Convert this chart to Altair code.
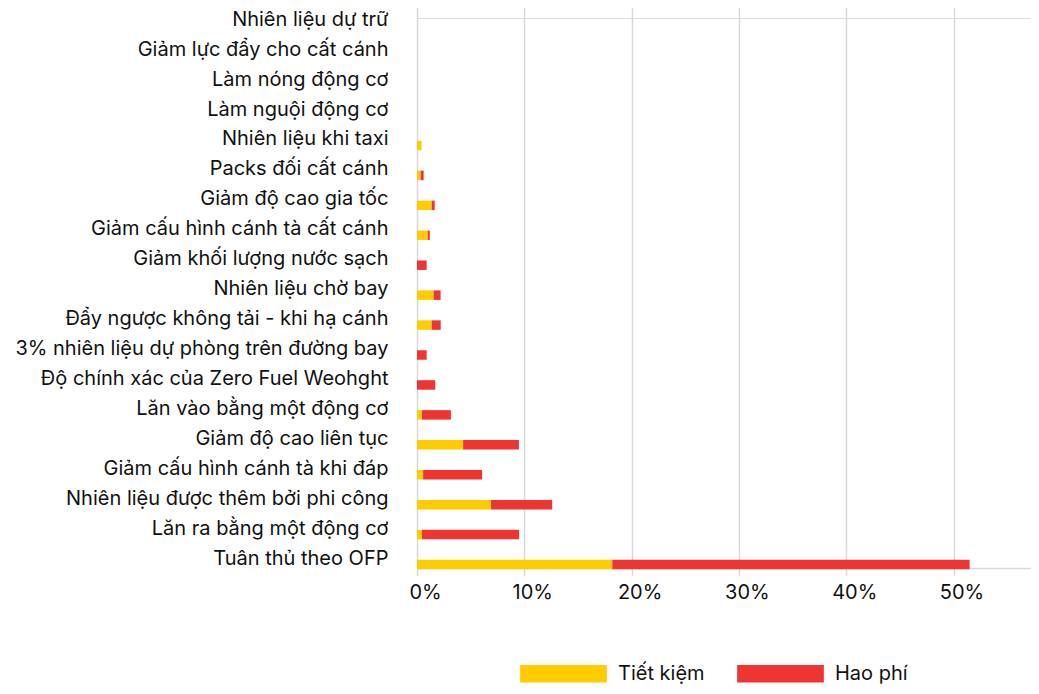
import altair as alt
import pandas as pd

categories = [
    "Nhiên liệu dự trữ",
    "Giảm lực đẩy cho cất cánh",
    "Làm nóng động cơ",
    "Làm nguội động cơ",
    "Nhiên liệu khi taxi",
    "Packs đối cất cánh",
    "Giảm độ cao gia tốc",
    "Giảm cấu hình cánh tà cất cánh",
    "Giảm khối lượng nước sạch",
    "Nhiên liệu chờ bay",
    "Đẩy ngược không tải - khi hạ cánh",
    "3% nhiên liệu dự phòng trên đường bay",
    "Độ chính xác của Zero Fuel Weohght",
    "Lăn vào bằng một động cơ",
    "Giảm độ cao liên tục",
    "Giảm cấu hình cánh tà khi đáp",
    "Nhiên liệu được thêm bởi phi công",
    "Lăn ra bằng một động cơ",
    "Tuân thủ theo OFP",
]

tiet_kiem = [0, 0, 0, 0, 0.0043, 0.0034, 0.0137, 0.010, 0, 0.0155, 0.0137,
             0, 0, 0.0046, 0.043, 0.0057, 0.069, 0.0046, 0.182]
hao_phi = [0, 0, 0, 0, 0, 0.0028, 0.0028, 0.0019, 0.009, 0.0065, 0.0084,
           0.009, 0.017, 0.027, 0.052, 0.055, 0.057, 0.0906, 0.333]

series = ["Tiết kiệm", "Hao phí"]
colors = ["#FFCC00", "#EF3532"]
x_ticks = [0, 0.1, 0.2, 0.3, 0.4, 0.5]

rows = []
for c, a, b in zip(categories, tiet_kiem, hao_phi):
    rows.append({"cat": c, "series": series[0], "order": 0, "value": a})
    rows.append({"cat": c, "series": series[1], "order": 1, "value": b})
df = pd.DataFrame(rows)

FONT = "Inter"
TEXT = "#111111"
GRID = "#D9D9D9"

chart = alt.Chart(df).mark_bar(size=9.5).encode(
    x=alt.X(
        "value:Q",
        stack="zero",
        scale=alt.Scale(domain=[0, 0.5722], nice=False, zero=True),
        axis=alt.Axis(
            format=".0%",
            values=x_ticks,
            title=None,
            grid=True,
            gridColor=GRID,
            gridWidth=1.5,
            domain=True,
            domainColor=GRID,
            domainWidth=1.5,
            ticks=False,
            labelFont=FONT,
            labelFontSize=20,
            labelColor=TEXT,
            labelPadding=14,
            labelOffset=8,
            labelFlush=False,
        ),
    ),
    y=alt.Y(
        "cat:N",
        sort=categories,
        scale=alt.Scale(range=[-7.2, 561.5], paddingInner=0, paddingOuter=0),
        axis=alt.Axis(
            title=None,
            domain=False,
            ticks=False,
            grid=False,
            labelFont=FONT,
            labelFontSize=20,
            labelColor=TEXT,
            labelPadding=29,
            labelOffset=-6,
            labelLimit=0,
        ),
    ),
    color=alt.Color(
        "series:N",
        scale=alt.Scale(domain=series, range=colors),
        legend=alt.Legend(
            title=None,
            orient="none",
            direction="horizontal",
            legendX=103,
            legendY=612,
            symbolType="M-1,-0.204H1V0.204H-1Z",
            symbolSize=7517,
            symbolStrokeWidth=0,
            symbolOpacity=1,
            labelFont=FONT,
            labelFontSize=20,
            labelColor=TEXT,
            labelOffset=11,
            columnPadding=32,
            padding=0,
        ),
    ),
    order=alt.Order("order:Q"),
).properties(
    width=614,
    height=550,
    padding={"left": 409, "top": 10, "right": 0, "bottom": 118},
    autosize=alt.AutoSizeParams(type="none"),
).configure_view(stroke=None).configure(background="white")

chart.save("out.html", embed_options={"renderer": "svg", "actions": False})
